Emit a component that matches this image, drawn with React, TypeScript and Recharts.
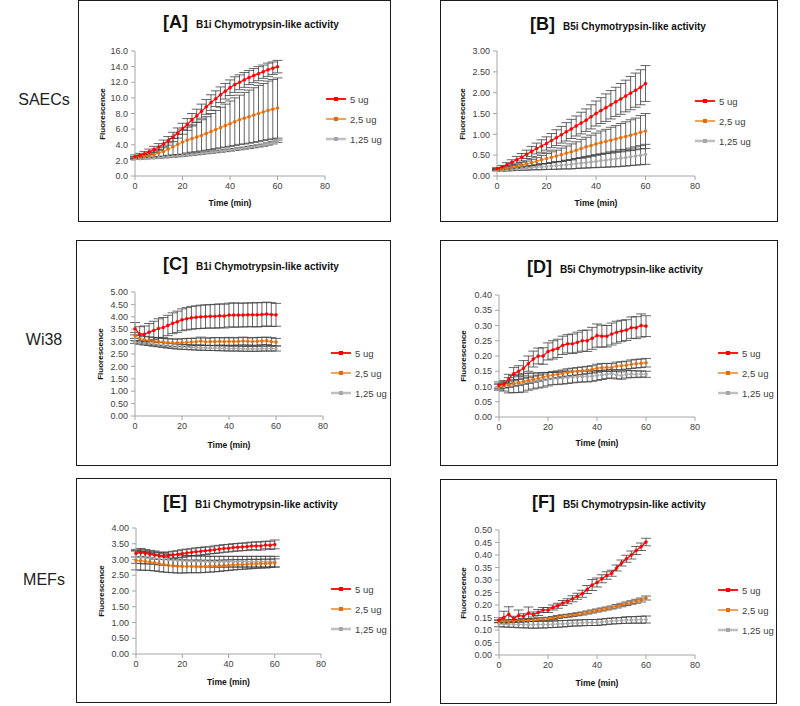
import { LineChart, Line, XAxis, YAxis, ErrorBar, Legend } from "recharts";

const TIME = [0, 2, 4, 6, 8, 10, 12, 14, 16, 18, 20, 22, 24, 26, 28, 30, 32, 34, 36, 38, 40, 42, 44, 46, 48, 50, 52, 54, 56, 58, 60];
const X_TICKS = [0, 20, 40, 60, 80];

// [A] SAECs, B1i
const A_5 = [2.5, 2.65, 2.85, 3.1, 3.4, 3.7, 4.1, 4.5, 5.0, 5.5, 6.05, 6.6, 7.2, 7.7, 8.3, 8.85, 9.4, 9.9, 10.4, 10.85, 11.3, 11.7, 12.0, 12.3, 12.6, 12.85, 13.1, 13.35, 13.6, 13.8, 14.0];
const A_5E = [0.2, 0.25, 0.3, 0.35, 0.4, 0.45, 0.5, 0.55, 0.6, 0.65, 0.7, 0.75, 0.8, 0.85, 0.9, 0.95, 1.0, 1.0, 1.0, 1.0, 1.0, 1.0, 0.95, 0.95, 0.9, 0.9, 0.9, 0.85, 0.85, 0.8, 0.8];
const A_25 = [2.4, 2.45, 2.55, 2.65, 2.75, 2.95, 3.15, 3.45, 3.75, 4.05, 4.35, 4.6, 4.8, 5.0, 5.2, 5.45, 5.7, 5.95, 6.2, 6.45, 6.7, 6.95, 7.2, 7.4, 7.6, 7.8, 8.0, 8.2, 8.4, 8.55, 8.7];
const A_25E = [0.1, 0.15, 0.2, 0.25, 0.35, 0.45, 0.6, 0.8, 1.05, 1.3, 1.55, 1.65, 1.75, 1.9, 2.0, 2.15, 2.3, 2.45, 2.6, 2.75, 2.9, 3.05, 3.15, 3.3, 3.4, 3.5, 3.6, 3.65, 3.75, 3.8, 3.85];
const A_125 = [2.2, 2.22, 2.25, 2.28, 2.32, 2.36, 2.4, 2.45, 2.5, 2.56, 2.62, 2.68, 2.75, 2.82, 2.89, 2.96, 3.03, 3.1, 3.17, 3.24, 3.32, 3.4, 3.48, 3.57, 3.66, 3.75, 3.85, 3.95, 4.1, 4.25, 4.45];
const A_125E = [0.06, 0.06, 0.07, 0.07, 0.08, 0.08, 0.08, 0.09, 0.09, 0.1, 0.1, 0.1, 0.1, 0.11, 0.11, 0.11, 0.12, 0.12, 0.12, 0.12, 0.13, 0.13, 0.13, 0.13, 0.14, 0.14, 0.14, 0.14, 0.15, 0.15, 0.15];

// [B] SAECs, B5i
const B_5 = [0.18, 0.22, 0.27, 0.33, 0.39, 0.45, 0.52, 0.59, 0.66, 0.72, 0.78, 0.85, 0.92, 0.99, 1.06, 1.13, 1.2, 1.27, 1.34, 1.42, 1.5, 1.57, 1.64, 1.71, 1.78, 1.85, 1.92, 1.99, 2.06, 2.13, 2.22];
const B_5E = [0.02, 0.03, 0.05, 0.06, 0.08, 0.09, 0.1, 0.12, 0.13, 0.15, 0.16, 0.17, 0.19, 0.2, 0.22, 0.23, 0.24, 0.26, 0.27, 0.29, 0.3, 0.31, 0.33, 0.34, 0.35, 0.37, 0.38, 0.4, 0.41, 0.42, 0.43];
const B_25 = [0.16, 0.17, 0.19, 0.21, 0.23, 0.26, 0.29, 0.32, 0.35, 0.39, 0.42, 0.45, 0.48, 0.51, 0.55, 0.58, 0.62, 0.66, 0.7, 0.73, 0.77, 0.8, 0.83, 0.86, 0.89, 0.92, 0.95, 0.98, 1.01, 1.05, 1.08];
const B_25E = [0.02, 0.02, 0.03, 0.04, 0.05, 0.06, 0.07, 0.08, 0.09, 0.1, 0.12, 0.13, 0.14, 0.16, 0.17, 0.19, 0.2, 0.22, 0.23, 0.25, 0.26, 0.28, 0.29, 0.31, 0.32, 0.34, 0.35, 0.37, 0.38, 0.4, 0.42];
const B_125 = [0.14, 0.14, 0.15, 0.16, 0.17, 0.18, 0.19, 0.2, 0.21, 0.22, 0.23, 0.24, 0.25, 0.26, 0.27, 0.28, 0.3, 0.31, 0.32, 0.34, 0.35, 0.37, 0.38, 0.4, 0.41, 0.43, 0.44, 0.46, 0.48, 0.5, 0.52];
const B_125E = [0.02, 0.02, 0.03, 0.03, 0.04, 0.04, 0.05, 0.05, 0.06, 0.07, 0.07, 0.08, 0.09, 0.09, 0.1, 0.11, 0.12, 0.12, 0.13, 0.14, 0.15, 0.16, 0.17, 0.18, 0.19, 0.2, 0.2, 0.21, 0.22, 0.23, 0.24];

// [C] Wi38, B1i
const C_5 = [3.52, 3.3, 3.3, 3.38, 3.45, 3.53, 3.57, 3.65, 3.74, 3.8, 3.88, 3.92, 3.96, 3.98, 4.0, 4.01, 4.02, 4.02, 4.04, 4.03, 4.07, 4.07, 4.07, 4.07, 4.08, 4.08, 4.08, 4.09, 4.11, 4.09, 4.08];
const C_5E = [0.25, 0.3, 0.33, 0.35, 0.37, 0.39, 0.4, 0.41, 0.42, 0.43, 0.44, 0.45, 0.46, 0.46, 0.47, 0.47, 0.47, 0.48, 0.48, 0.48, 0.48, 0.49, 0.48, 0.48, 0.48, 0.48, 0.49, 0.48, 0.48, 0.48, 0.46];
const C_25 = [3.25, 3.12, 3.07, 3.04, 3.02, 3.0, 2.98, 2.96, 2.95, 2.95, 2.96, 2.97, 2.98, 2.99, 3.02, 2.99, 3.0, 3.0, 3.01, 3.0, 3.01, 3.0, 3.01, 3.02, 3.01, 3.0, 3.01, 3.02, 3.03, 3.0, 2.98];
const C_25E = [0.12, 0.13, 0.14, 0.15, 0.15, 0.16, 0.15, 0.15, 0.16, 0.15, 0.15, 0.16, 0.15, 0.15, 0.16, 0.15, 0.15, 0.16, 0.15, 0.15, 0.16, 0.15, 0.15, 0.16, 0.15, 0.15, 0.16, 0.15, 0.15, 0.16, 0.15];
const C_125 = [2.98, 2.96, 2.94, 2.92, 2.9, 2.88, 2.86, 2.84, 2.82, 2.8, 2.79, 2.78, 2.77, 2.76, 2.75, 2.75, 2.74, 2.74, 2.73, 2.73, 2.72, 2.72, 2.72, 2.71, 2.71, 2.71, 2.71, 2.72, 2.72, 2.72, 2.72];
const C_125E = [0.06, 0.07, 0.08, 0.08, 0.09, 0.09, 0.1, 0.1, 0.1, 0.1, 0.1, 0.1, 0.1, 0.1, 0.1, 0.1, 0.1, 0.1, 0.1, 0.1, 0.1, 0.1, 0.1, 0.1, 0.1, 0.1, 0.1, 0.1, 0.1, 0.1, 0.1];

// [D] Wi38, B5i
const D_5 = [0.105, 0.108, 0.125, 0.142, 0.15, 0.16, 0.175, 0.19, 0.2, 0.2, 0.215, 0.22, 0.225, 0.235, 0.24, 0.24, 0.245, 0.25, 0.25, 0.258, 0.267, 0.265, 0.265, 0.272, 0.278, 0.282, 0.285, 0.293, 0.293, 0.3, 0.298];
const D_5E = [0.01, 0.012, 0.015, 0.02, 0.018, 0.025, 0.025, 0.026, 0.026, 0.027, 0.028, 0.03, 0.03, 0.03, 0.03, 0.032, 0.033, 0.034, 0.035, 0.036, 0.038, 0.036, 0.035, 0.036, 0.036, 0.035, 0.034, 0.035, 0.036, 0.038, 0.034];
const D_25 = [0.1, 0.103, 0.106, 0.11, 0.113, 0.117, 0.12, 0.124, 0.127, 0.131, 0.135, 0.138, 0.14, 0.143, 0.146, 0.148, 0.15, 0.152, 0.154, 0.156, 0.16, 0.162, 0.163, 0.162, 0.167, 0.168, 0.17, 0.173, 0.175, 0.176, 0.178];
const D_25E = [0.008, 0.008, 0.009, 0.009, 0.01, 0.01, 0.01, 0.01, 0.01, 0.01, 0.011, 0.011, 0.011, 0.011, 0.012, 0.012, 0.012, 0.012, 0.012, 0.012, 0.013, 0.013, 0.013, 0.013, 0.013, 0.013, 0.013, 0.014, 0.014, 0.014, 0.014];
const D_125 = [0.098, 0.1, 0.104, 0.108, 0.11, 0.112, 0.116, 0.118, 0.12, 0.122, 0.124, 0.126, 0.127, 0.128, 0.13, 0.131, 0.132, 0.133, 0.133, 0.134, 0.136, 0.138, 0.14, 0.142, 0.138, 0.136, 0.14, 0.141, 0.14, 0.141, 0.14];
const D_125E = [0.01, 0.015, 0.025, 0.028, 0.03, 0.03, 0.028, 0.026, 0.025, 0.024, 0.022, 0.02, 0.02, 0.02, 0.02, 0.019, 0.018, 0.018, 0.018, 0.017, 0.016, 0.015, 0.014, 0.014, 0.013, 0.012, 0.012, 0.011, 0.011, 0.01, 0.01];

// [E] MEFs, B1i
const E_5 = [3.2, 3.22, 3.2, 3.17, 3.14, 3.12, 3.11, 3.12, 3.14, 3.17, 3.19, 3.21, 3.23, 3.25, 3.26, 3.28, 3.29, 3.31, 3.33, 3.35, 3.36, 3.38, 3.39, 3.4, 3.41, 3.43, 3.43, 3.43, 3.46, 3.45, 3.48];
const E_5E = [0.12, 0.13, 0.12, 0.12, 0.13, 0.12, 0.11, 0.12, 0.12, 0.11, 0.12, 0.12, 0.11, 0.12, 0.12, 0.12, 0.11, 0.12, 0.12, 0.12, 0.12, 0.12, 0.12, 0.12, 0.12, 0.12, 0.13, 0.13, 0.12, 0.13, 0.14];
const E_25 = [2.97, 2.96, 2.94, 2.92, 2.9, 2.87, 2.84, 2.82, 2.8, 2.79, 2.78, 2.78, 2.78, 2.78, 2.78, 2.78, 2.79, 2.79, 2.8, 2.81, 2.82, 2.83, 2.84, 2.84, 2.85, 2.86, 2.86, 2.87, 2.87, 2.88, 2.89];
const E_25E = [0.3, 0.3, 0.28, 0.27, 0.26, 0.25, 0.24, 0.23, 0.22, 0.22, 0.21, 0.2, 0.2, 0.2, 0.2, 0.19, 0.19, 0.18, 0.18, 0.17, 0.17, 0.16, 0.16, 0.15, 0.15, 0.15, 0.14, 0.14, 0.14, 0.13, 0.13];
const E_125 = [3.08, 3.07, 3.06, 3.05, 3.04, 3.02, 3.0, 2.99, 2.98, 2.97, 2.96, 2.95, 2.95, 2.94, 2.94, 2.94, 2.93, 2.93, 2.93, 2.93, 2.93, 2.93, 2.93, 2.93, 2.93, 2.93, 2.93, 2.93, 2.93, 2.93, 2.93];
const E_125E = [0.2, 0.2, 0.2, 0.19, 0.19, 0.19, 0.18, 0.18, 0.18, 0.18, 0.18, 0.17, 0.17, 0.17, 0.17, 0.17, 0.17, 0.17, 0.17, 0.17, 0.17, 0.17, 0.17, 0.17, 0.17, 0.17, 0.17, 0.17, 0.17, 0.17, 0.17];

// [F] MEFs, B5i
const F_5 = [0.14, 0.15, 0.163, 0.145, 0.158, 0.155, 0.167, 0.162, 0.17, 0.18, 0.18, 0.19, 0.197, 0.208, 0.215, 0.225, 0.235, 0.245, 0.262, 0.28, 0.29, 0.305, 0.318, 0.327, 0.348, 0.368, 0.385, 0.4, 0.418, 0.433, 0.452];
const F_5E = [0.01, 0.025, 0.03, 0.01, 0.022, 0.01, 0.025, 0.01, 0.012, 0.01, 0.01, 0.01, 0.01, 0.01, 0.01, 0.012, 0.012, 0.014, 0.016, 0.022, 0.018, 0.016, 0.015, 0.012, 0.012, 0.012, 0.014, 0.016, 0.016, 0.015, 0.015];
const F_25 = [0.135, 0.135, 0.135, 0.136, 0.137, 0.138, 0.139, 0.14, 0.142, 0.143, 0.145, 0.148, 0.152, 0.155, 0.157, 0.16, 0.163, 0.166, 0.17, 0.174, 0.178, 0.182, 0.186, 0.19, 0.195, 0.2, 0.205, 0.21, 0.215, 0.22, 0.228];
const F_25E = [0.006, 0.006, 0.006, 0.006, 0.006, 0.006, 0.006, 0.006, 0.006, 0.006, 0.006, 0.006, 0.006, 0.006, 0.006, 0.006, 0.006, 0.006, 0.006, 0.006, 0.006, 0.006, 0.006, 0.006, 0.007, 0.007, 0.007, 0.007, 0.008, 0.008, 0.008];
const F_125 = [0.125, 0.124, 0.123, 0.123, 0.122, 0.122, 0.121, 0.121, 0.122, 0.122, 0.122, 0.123, 0.124, 0.125, 0.126, 0.128, 0.128, 0.129, 0.13, 0.13, 0.13, 0.132, 0.134, 0.136, 0.137, 0.138, 0.14, 0.14, 0.141, 0.141, 0.142];
const F_125E = [0.012, 0.012, 0.012, 0.012, 0.013, 0.013, 0.013, 0.014, 0.014, 0.014, 0.013, 0.013, 0.013, 0.013, 0.012, 0.012, 0.012, 0.012, 0.012, 0.012, 0.012, 0.012, 0.012, 0.012, 0.012, 0.012, 0.013, 0.013, 0.013, 0.014, 0.014];

const ROW_LABELS = [
  { text: "SAECs", y: 100 },
  { text: "Wi38", y: 340 },
  { text: "MEFs", y: 580 },
];

const SERIES = [
  { key: "s125", err: "e125", name: "1,25 ug", line: "#BFBFBF", dot: "#A6A6A6" },
  { key: "s25", err: "e25", name: "2,5 ug", line: "#F79646", dot: "#E46C0A" },
  { key: "s5", err: "e5", name: "5 ug", line: "#FF0000", dot: "#FF0000" },
];
const LEGEND_ORDER = ["5 ug", "2,5 ug", "1,25 ug"];

function rows(s5: number[], e5: number[], s25: number[], e25: number[], s125: number[], e125: number[]) {
  return TIME.map((t, i) => ({ t, s5: s5[i], e5: e5[i], s25: s25[i], e25: e25[i], s125: s125[i], e125: e125[i] }));
}

type PanelSpec = {
  letter: string;
  sub: string;
  box: [number, number, number, number];
  plot: [number, number, number, number];
  yMax: number;
  yTicks: number[];
  dec: number;
  data: ReturnType<typeof rows>;
  title: [number, number];
  legend: [number, number];
  yLabX: number;
  xLabY: number;
};

const PANELS: PanelSpec[] = [
  {
    letter: "[A]", sub: "B1i Chymotrypsin-like activity",
    box: [78, 0, 313, 222], plot: [135, 51, 325, 176],
    yMax: 16, yTicks: [0, 2, 4, 6, 8, 10, 12, 14, 16], dec: 1,
    data: rows(A_5, A_5E, A_25, A_25E, A_125, A_125E),
    title: [163, 23], legend: [326, 89], yLabX: 102, xLabY: 203,
  },
  {
    letter: "[B]", sub: "B5i Chymotrypsin-like activity",
    box: [440, 0, 338, 222], plot: [497, 51, 695, 176],
    yMax: 3, yTicks: [0, 0.5, 1, 1.5, 2, 2.5, 3], dec: 2,
    data: rows(B_5, B_5E, B_25, B_25E, B_125, B_125E),
    title: [530, 25], legend: [695, 91], yLabX: 462, xLabY: 203,
  },
  {
    letter: "[C]", sub: "B1i Chymotrypsin-like activity",
    box: [76, 240, 315, 226], plot: [135, 292, 323, 416],
    yMax: 5, yTicks: [0, 0.5, 1, 1.5, 2, 2.5, 3, 3.5, 4, 4.5, 5], dec: 2,
    data: rows(C_5, C_5E, C_25, C_25E, C_125, C_125E),
    title: [163, 265], legend: [331, 343], yLabX: 100, xLabY: 445,
  },
  {
    letter: "[D]", sub: "B5i Chymotrypsin-like activity",
    box: [440, 240, 338, 226], plot: [499, 295, 695, 417],
    yMax: 0.4, yTicks: [0, 0.05, 0.1, 0.15, 0.2, 0.25, 0.3, 0.35, 0.4], dec: 2,
    data: rows(D_5, D_5E, D_25, D_25E, D_125, D_125E),
    title: [527, 268], legend: [718, 343], yLabX: 463, xLabY: 443,
  },
  {
    letter: "[E]", sub: "B1i Chymotrypsin-like activity",
    box: [76, 478, 315, 225], plot: [136, 528, 321, 654],
    yMax: 4, yTicks: [0, 0.5, 1, 1.5, 2, 2.5, 3, 3.5, 4], dec: 2,
    data: rows(E_5, E_5E, E_25, E_25E, E_125, E_125E),
    title: [163, 503], legend: [331, 579], yLabX: 101, xLabY: 682,
  },
  {
    letter: "[F]", sub: "B5i Chymotrypsin-like activity",
    box: [440, 479, 337, 225], plot: [499, 530, 695, 655],
    yMax: 0.5, yTicks: [0, 0.05, 0.1, 0.15, 0.2, 0.25, 0.3, 0.35, 0.4, 0.45, 0.5], dec: 2,
    data: rows(F_5, F_5E, F_25, F_25E, F_125, F_125E),
    title: [532, 503], legend: [718, 580], yLabX: 463, xLabY: 683,
  },
];

const FONT = "'Liberation Sans', Arial, sans-serif";
const AXIS = "#A6A6A6";
const TICK = { fontSize: 9, fill: "#404040" };
const Y_AXIS_W = 30;
const X_AXIS_H = 20;

function renderLegend(props: any) {
  const items = [...(props.payload ?? [])].sort(
    (a: any, b: any) => LEGEND_ORDER.indexOf(a.value) - LEGEND_ORDER.indexOf(b.value)
  );
  return (
    <div style={{ fontFamily: FONT }}>
      {items.map((it: any) => {
        const s = SERIES.find((x) => x.name === it.value)!;
        return (
          <div key={it.value} style={{ display: "flex", alignItems: "center", height: 20 }}>
            <svg width={20} height={8}>
              <line x1={0} y1={4} x2={20} y2={4} stroke={s.line} strokeWidth={s.key === "s125" ? 2.5 : 1.8} />
              <rect x={8} y={2} width={4} height={4} fill={s.dot} />
            </svg>
            <span style={{ marginLeft: 4, fontSize: 9.5, color: "#404040", whiteSpace: "nowrap" }}>{it.value}</span>
          </div>
        );
      })}
    </div>
  );
}

function Panel({ p }: { p: PanelSpec }) {
  const [bx, by, bw, bh] = p.box;
  const [pl, pt, pr, pb] = p.plot;
  const margin = {
    top: pt - by,
    left: pl - bx - Y_AXIS_W,
    right: bx + bw - pr,
    bottom: by + bh - pb - X_AXIS_H,
  };
  return (
    <>
      <div style={{ position: "absolute", left: bx, top: by, width: bw, height: bh, overflow: "hidden" }}>
        <LineChart width={bw} height={bh} data={p.data} margin={margin}>
          <XAxis
            type="number" dataKey="t" domain={[0, 80]} ticks={X_TICKS} height={X_AXIS_H}
            stroke={AXIS} tick={TICK} tickSize={4} tickMargin={3} interval={0}
          />
          <YAxis
            type="number" domain={[0, p.yMax]} ticks={p.yTicks} allowDataOverflow width={Y_AXIS_W}
            stroke={AXIS} tick={TICK} tickSize={4} tickMargin={3} interval={0}
            tickFormatter={(v: number) => v.toFixed(p.dec)}
          />
          {SERIES.map((s) => (
            <Line
              key={s.key} dataKey={s.key} name={s.name} stroke={s.line} strokeWidth={1.2}
              dot={{ r: 1.5, fill: s.dot, stroke: s.dot, strokeWidth: 0.5 }}
              isAnimationActive={false}
            >
              <ErrorBar dataKey={s.err} width={5} stroke="#404040" strokeWidth={0.8} direction="y" />
            </Line>
          ))}
          <Legend
            layout="vertical" verticalAlign="middle" align="center"
            wrapperStyle={{ left: p.legend[0] - bx, top: p.legend[1] - by, width: 70 }}
            content={renderLegend}
          />
        </LineChart>
      </div>
      <div style={{ position: "absolute", left: bx, top: by, width: bw, height: bh, border: "1px solid #1a1a1a", boxSizing: "border-box" }} />
      <div style={{ position: "absolute", left: p.title[0], top: p.title[1] - 11, display: "flex", alignItems: "baseline", whiteSpace: "nowrap", fontWeight: "bold", color: "#111" }}>
        <span style={{ fontSize: 18 }}>{p.letter}</span>
        <span style={{ fontSize: 10, marginLeft: 8 }}>{p.sub}</span>
      </div>
      <div style={{ position: "absolute", left: p.yLabX, top: (pt + pb) / 2, transform: "translate(-50%, -50%) rotate(-90deg)", fontSize: 8, fontWeight: "bold", whiteSpace: "nowrap", color: "#111" }}>
        Fluorescence
      </div>
      <div style={{ position: "absolute", left: (pl + pr) / 2, top: p.xLabY, transform: "translate(-50%, -50%)", fontSize: 8.5, fontWeight: "bold", whiteSpace: "nowrap", color: "#111" }}>
        Time (min)
      </div>
    </>
  );
}

export default function App() {
  return (
    <div style={{ position: "absolute", left: 0, top: 0, width: 800, height: 706, background: "#fff", overflow: "hidden", fontFamily: FONT }}>
      {ROW_LABELS.map((r) => (
        <div key={r.text} style={{ position: "absolute", left: 44, top: r.y, transform: "translate(-50%, -50%)", fontSize: 16, color: "#222" }}>
          {r.text}
        </div>
      ))}
      {PANELS.map((p) => (
        <Panel key={p.letter} p={p} />
      ))}
    </div>
  );
}
